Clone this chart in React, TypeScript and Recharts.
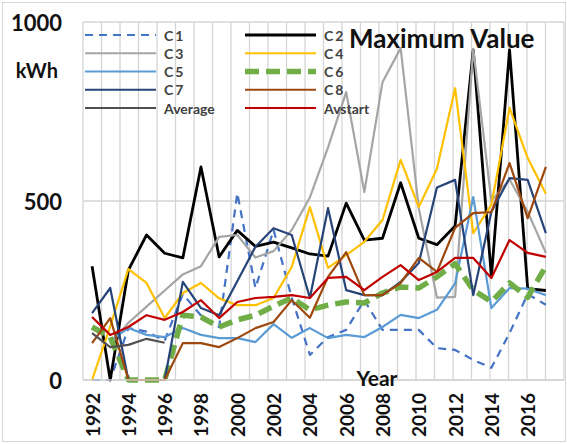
import { LineChart, Line, XAxis, YAxis, CartesianGrid } from 'recharts'

// yearly consumption, kWh
const years = [
  1992, 1993, 1994, 1995, 1996, 1997, 1998, 1999, 2000, 2001, 2002, 2003, 2004,
  2005, 2006, 2007, 2008, 2009, 2010, 2011, 2012, 2013, 2014, 2015, 2016, 2017,
]
const yearTicks = [1992, 1994, 1996, 1998, 2000, 2002, 2004, 2006, 2008, 2010, 2012, 2014, 2016]
const kwhTicks = [0, 500, 1000]

const c1 = [0, 0, 145, 135, 110, 240, 180, 148, 522, 257, 419, 230, 70, 120, 140, 223, 140, 140, 140, 89, 84, 56, 34, 131, 240, 210]
const c2 = [318, 0, 307, 405, 354, 341, 595, 344, 418, 373, 385, 369, 352, 346, 494, 391, 396, 551, 396, 378, 430, 922, 289, 922, 255, 250]
const c3 = [null, 100, 160, 205, 250, 295, 318, 400, 405, 342, 360, 419, 510, 650, 804, 525, 832, 927, 480, 230, 232, 925, 500, 560, 470, 355]
const c4 = [0, 150, 310, 271, 173, 243, 271, 228, 209, 209, 229, 316, 483, 313, 349, 386, 447, 615, 483, 590, 815, 410, 490, 760, 620, 520]
const c5 = [null, 110, 145, 126, 120, 145, 126, 117, 117, 106, 156, 118, 145, 117, 126, 120, 148, 182, 173, 196, 270, 511, 201, 257, 255, 237]
const c6 = [148, 120, 0, 0, 0, 181, 176, 148, 168, 181, 206, 229, 196, 209, 218, 215, 243, 260, 257, 288, 325, 251, 219, 271, 231, 318]
const c7 = [187, 257, 0, 0, 0, 274, 201, 181, 276, 372, 424, 405, 229, 480, 251, 237, 237, 274, 327, 538, 559, 237, 470, 564, 559, 410]
const c8 = [103, 173, 0, 0, 0, 103, 103, 92, 117, 145, 162, 223, 174, 288, 357, 237, 237, 271, 341, 302, 425, 466, 469, 606, 452, 595]
const average = [131, 92, 98, 115, 104, null, null, null, null, null, null, null, null, null, null, null, null, null, null, null, null, null, null, null, null, null]
const avstart = [176, 126, 148, 181, 168, 190, 223, 173, 218, 229, 232, 237, 229, 285, 288, 251, 288, 321, 279, 302, 341, 341, 285, 391, 355, 344]

const series = [
  { key: 'c1', name: 'C1', values: c1, color: '#4472C4', width: 2.2, dash: '8 6' },
  { key: 'c2', name: 'C2', values: c2, color: '#000000', width: 2.8 },
  { key: 'c3', name: 'C3', values: c3, color: '#A5A5A5', width: 2.2 },
  { key: 'c4', name: 'C4', values: c4, color: '#FFC000', width: 2.2 },
  { key: 'c5', name: 'C5', values: c5, color: '#5B9BD5', width: 2.2 },
  { key: 'c6', name: 'C6', values: c6, color: '#70AD47', width: 5.5, dash: '14 7' },
  { key: 'c7', name: 'C7', values: c7, color: '#264478', width: 2.2 },
  { key: 'c8', name: 'C8', values: c8, color: '#9E480E', width: 2.2 },
  { key: 'average', name: 'Average', values: average, color: '#505050', width: 2.2 },
  { key: 'avstart', name: 'Avstart', values: avstart, color: '#C00000', width: 2.2 },
]

const data = years.map((year, i) => {
  const row: Record<string, number | null> = { year }
  series.forEach((s) => {
    row[s.key] = s.values[i]
  })
  return row
})

const FONT = 'Lato, "Open Sans", sans-serif'
const W = 567
const H = 444

const YTick = ({ x, y, payload }: any) => (
  <g>
    <text x={x} y={y} textAnchor="end" dominantBaseline="central" fontFamily={FONT} fontWeight={700} fontSize={22} fill="#111">
      {payload.value}
    </text>
    {payload.value === 1000 && (
      <text x={x - 4} y={y + 48} textAnchor="end" dominantBaseline="central" fontFamily={FONT} fontWeight={700} fontSize={20} fill="#111">
        kWh
      </text>
    )}
  </g>
)

const XTick = ({ x, y, payload }: any) => (
  <text
    x={x}
    y={y}
    transform={`rotate(-90, ${x}, ${y})`}
    textAnchor="end"
    dominantBaseline="central"
    fontFamily={FONT}
    fontWeight={700}
    fontSize={19}
    fill="#111"
  >
    {payload.value}
  </text>
)

// legend: two columns, drawn over the plot area
const Legend = () => (
  <svg width={W} height={H} style={{ position: 'absolute', left: 0, top: 0, pointerEvents: 'none' }}>
    {series.map((s, i) => {
      const col = i % 2
      const row = Math.floor(i / 2)
      const x0 = col === 0 ? 85 : 245
      const y = 35 + row * 18.25
      return (
        <g key={s.key}>
          <line x1={x0} x2={x0 + 71} y1={y} y2={y} stroke={s.color} strokeWidth={s.width} strokeDasharray={s.dash} />
          <text x={x0 + 79} y={y} dominantBaseline="central" fontFamily={FONT} fontWeight={700} fontSize={14} fill="#404040" letterSpacing={s.name.length === 2 ? 2 : 0}>
            {s.name}
          </text>
        </g>
      )
    })}
    <text x={349} y={48} fontFamily={FONT} fontWeight={700} fontSize={26} fill="#111">
      Maximum Value
    </text>
    <text x={377} y={377} textAnchor="middle" dominantBaseline="central" fontFamily={FONT} fontWeight={700} fontSize={21} fill="#111">
      Year
    </text>
  </svg>
)

export default function App() {
  return (
    <div style={{ position: 'absolute', left: 0, top: 0, width: W, height: H, background: '#fff' }}>
      <div style={{ position: 'absolute', left: 2, top: 2, width: 562, height: 438, border: '1px solid #d6d6d6' }} />
      <LineChart width={W} height={H} data={data} margin={{ top: 22, right: 3, bottom: 0, left: 0 }}>
        <CartesianGrid
          stroke="#d4d4d4"
          strokeWidth={1.3}
          verticalCoordinatesGenerator={({ offset }: any) =>
            Array.from({ length: years.length + 1 }, (_, i) => offset.left + (i * offset.width) / years.length)
          }
        />
        <XAxis
          dataKey="year"
          type="number"
          domain={[years[0] - 0.5, years[years.length - 1] + 0.5]}
          ticks={yearTicks}
          tick={<XTick />}
          tickLine={false}
          axisLine={{ stroke: '#d4d4d4', strokeWidth: 1.3 }}
          tickSize={0}
          tickMargin={13}
          height={64}
          interval={0}
          allowDecimals={false}
        />
        <YAxis
          domain={[0, 1000]}
          ticks={kwhTicks}
          tick={<YTick />}
          tickLine={false}
          axisLine={false}
          tickSize={0}
          tickMargin={21}
          width={83}
          interval={0}
        />
        {series.map((s) => (
          <Line
            key={s.key}
            type="linear"
            dataKey={s.key}
            name={s.name}
            stroke={s.color}
            strokeWidth={s.width}
            strokeDasharray={s.dash}
            strokeLinejoin="round"
            dot={false}
            activeDot={false}
            isAnimationActive={false}
          />
        ))}
      </LineChart>
      <Legend />
    </div>
  )
}
